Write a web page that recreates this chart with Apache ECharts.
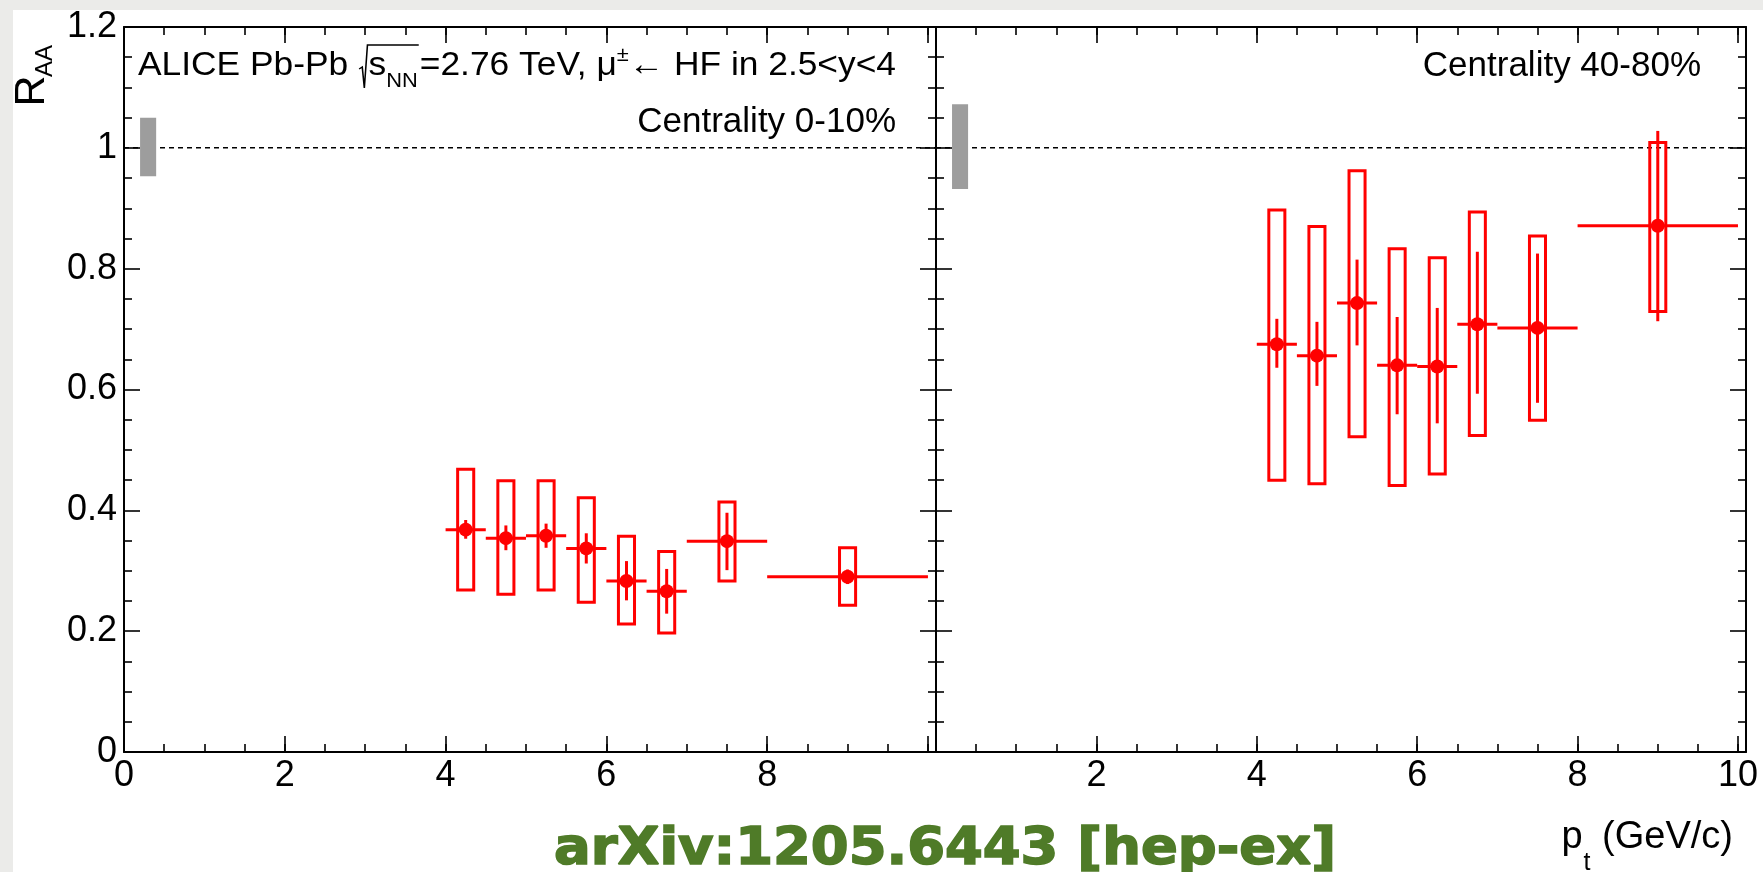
<!DOCTYPE html>
<html><head><meta charset="utf-8">
<script src="https://cdn.jsdelivr.net/npm/echarts@6/dist/echarts.min.js"></script>
<style>
html,body{margin:0;padding:0;background:#ebebe9;}
#wrap{position:relative;width:1763px;height:872px;overflow:hidden;background:#ebebe9;}
#paper{position:absolute;left:13px;top:10px;right:0;bottom:0;background:#fff;}
#chart{position:absolute;left:0;top:0;width:1763px;height:872px;}
</style></head><body>
<div id="wrap"><div id="paper"></div><div id="chart"></div></div>
<script>
// ---------------- data ----------------
const binCenters = [4.25, 4.75, 5.25, 5.75, 6.25, 6.75, 7.5, 9.0];
const binLow     = [4, 4.5, 5, 5.5, 6, 6.5, 7, 8];
const binHigh    = [4.5, 5, 5.5, 6, 6.5, 7, 8, 10];

// Centrality 0-10%
const raaCentral     = [0.368, 0.354, 0.358, 0.337, 0.283, 0.266, 0.349, 0.290];
const statLoCentral  = [0.353, 0.334, 0.338, 0.312, 0.251, 0.229, 0.301, 0.278];
const statHiCentral  = [0.384, 0.375, 0.378, 0.362, 0.316, 0.303, 0.396, 0.302];
const systLoCentral  = [0.268, 0.261, 0.268, 0.248, 0.212, 0.197, 0.283, 0.243];
const systHiCentral  = [0.468, 0.449, 0.449, 0.421, 0.357, 0.332, 0.414, 0.338];

// Centrality 40-80%
const raaPeripheral    = [0.675, 0.656, 0.743, 0.640, 0.638, 0.708, 0.702, 0.871];
const statLoPeripheral = [0.636, 0.606, 0.673, 0.559, 0.544, 0.593, 0.578, 0.713];
const statHiPeripheral = [0.717, 0.712, 0.815, 0.720, 0.735, 0.828, 0.825, 1.028];
const systLoPeripheral = [0.450, 0.444, 0.522, 0.441, 0.460, 0.524, 0.549, 0.729];
const systHiPeripheral = [0.897, 0.870, 0.962, 0.833, 0.818, 0.894, 0.854, 1.009];

// global normalisation uncertainty boxes [x, low, high]
const normUncCentral    = [0.3, 0.953, 1.050];
const normUncPeripheral = [0.3, 0.932, 1.072];

const xTickLabelsCentral    = [0, 2, 4, 6, 8];
const xTickLabelsPeripheral = [2, 4, 6, 8, 10];
const yTickLabels = ['0', '0.2', '0.4', '0.6', '0.8', '1', '1.2'];

// ---------------- styling ----------------
const FONT = 'Liberation Sans';
const RED = '#ff0000';
const BOX_HALF = 0.1;
const ctx = document.createElement('canvas').getContext('2d');
function tw(str, size, weight, family) {
  ctx.font = (weight || 'normal') + ' ' + size + 'px "' + (family || FONT) + '", "DejaVu Sans", sans-serif';
  return ctx.measureText(str).width;
}

const lineBlack = { color: '#000', width: 2 };
const tickBlack = { color: '#000', width: 1.6 };

function xAxes(gi, labels) {
  const base = { gridIndex: gi, type: 'value', min: 0, max: 10.1, splitLine: { show: false } };
  const ax = (pos, interval, len, showLine, showLabel) => Object.assign({}, base, {
    position: pos, interval: interval,
    axisLine: { show: showLine, onZero: false, lineStyle: lineBlack },
    axisTick: { show: true, inside: true, length: len, lineStyle: tickBlack },
    axisLabel: showLabel ? {
      show: true, margin: 6, color: '#000', fontSize: 36, fontFamily: FONT,
      formatter: v => (labels.indexOf(v) >= 0 ? String(v) : '')
    } : { show: false }
  });
  return [
    ax('bottom', 2, 16, true, true),
    ax('bottom', 0.5, 8, false, false),
    ax('top', 2, 16, true, false),
    ax('top', 0.5, 8, false, false)
  ];
}
function yAxes(gi, showLabels) {
  const base = {
    gridIndex: gi, type: 'value', min: 0, max: 1.2, interval: 0.2, splitLine: { show: false },
    axisLine: { show: true, onZero: false, lineStyle: lineBlack },
    axisTick: { show: true, inside: true, length: 16, lineStyle: tickBlack },
    minorTick: { show: true, splitNumber: 4, length: 8, lineStyle: tickBlack }
  };
  return [
    Object.assign({}, base, { position: 'left', axisLabel: showLabels ? {
      show: true, margin: 7, color: '#000', fontSize: 36, fontFamily: FONT,
      formatter: v => yTickLabels[Math.round(v / 0.2)]
    } : { show: false } }),
    Object.assign({}, base, { position: 'right', axisLabel: { show: false } })
  ];
}

function renderGray(params, api) {
  const a = api.coord([api.value(0) - BOX_HALF, api.value(2)]);
  const b = api.coord([api.value(0) + BOX_HALF, api.value(1)]);
  return { type: 'rect', shape: { x: a[0], y: a[1], width: b[0] - a[0], height: b[1] - a[1] },
    style: { fill: '#9d9d9d' } };
}
function renderSyst(params, api) {
  const a = api.coord([api.value(0) - BOX_HALF, api.value(2)]);
  const b = api.coord([api.value(0) + BOX_HALF, api.value(1)]);
  return { type: 'rect', shape: { x: a[0], y: a[1], width: b[0] - a[0], height: b[1] - a[1] },
    style: { fill: 'none', stroke: RED, lineWidth: 3 } };
}
function renderPoint(params, api) {
  const x = api.value(0), y = api.value(1);
  const c = api.coord([x, y]);
  const lo = api.coord([x, api.value(2)]);
  const hi = api.coord([x, api.value(3)]);
  const l = api.coord([api.value(4), y]);
  const r = api.coord([api.value(5), y]);
  return { type: 'group', children: [
    { type: 'line', shape: { x1: c[0], y1: hi[1], x2: c[0], y2: lo[1] }, style: { stroke: RED, lineWidth: 3 } },
    { type: 'line', shape: { x1: l[0], y1: c[1], x2: r[0], y2: c[1] }, style: { stroke: RED, lineWidth: 3 } },
    { type: 'circle', shape: { cx: c[0], cy: c[1], r: 7 }, style: { fill: RED } }
  ] };
}

function panelSeries(xi, yi, raa, sLo, sHi, yLo, yHi, norm) {
  return [
    { type: 'line', xAxisIndex: xi, yAxisIndex: yi, data: [[0, 1], [10.1, 1]], symbol: 'none',
      lineStyle: { color: '#000', width: 1.5, type: [5, 4] }, silent: true, z: 1 },
    { type: 'custom', xAxisIndex: xi, yAxisIndex: yi, data: [norm], renderItem: renderGray, z: 2, silent: true },
    { type: 'custom', xAxisIndex: xi, yAxisIndex: yi,
      data: binCenters.map((x, i) => [x, yLo[i], yHi[i]]), renderItem: renderSyst, z: 3, silent: true },
    { type: 'custom', xAxisIndex: xi, yAxisIndex: yi,
      data: binCenters.map((x, i) => [x, raa[i], sLo[i], sHi[i], binLow[i], binHigh[i]]),
      renderItem: renderPoint, z: 4, silent: true }
  ];
}

// ---------------- annotations ----------------
function txt(text, x, y, size, align, extra) {
  return Object.assign({ type: 'text', x: x, y: y, style: {
    text: text, fontSize: size, fontFamily: FONT, fill: '#000', align: align || 'left', verticalAlign: 'middle'
  } }, extra || {});
}
// header line with sqrt(s_NN)
const H = 34, S = 21, HY = 66;
let hx = 0;
const hParts = [];
function hadd(text, size, dy) { hParts.push(txt(text, hx, HY + dy, size, 'left')); hx += tw(text, size); }
hadd('ALICE Pb-Pb ', H, 0);
const radX = hx; hx += 10;
hadd('s', H, 0);
hadd('NN', S, 15);
const olEnd = hx + 1;
hx += 2;
hadd('=2.76 TeV, \u03bc', H, 0);
hadd('\u00b1', S, -11);
hadd('\u2190 HF in 2.5<y<4', H, 0);
hParts.push({ type: 'polyline', shape: { points: [[radX + 1, HY + 3], [radX + 4, HY + 1], [radX + 6, HY + 22], [radX + 9, HY - 21], [olEnd, HY - 21]] },
  style: { stroke: '#000', lineWidth: 1.5, fill: null } });
const headerTarget = 758;

// x-axis title p_t (GeV/c)
const xtParts = [];
let px = 0;
xtParts.push(txt('p', px, 0, 38, 'left')); px += tw('p', 38);
xtParts.push(txt('t', px + 1, 25, 25, 'left')); px += tw('t', 25) + 2;
xtParts.push(txt(' (GeV/c)', px, 0, 38, 'left')); px += tw(' (GeV/c)', 38);

const arxivText = 'arXiv:1205.6443 [hep-ex]';
const ARX_FAMILY = 'DejaVu Sans Condensed';
const arxivW = tw(arxivText, 52, 'bold', ARX_FAMILY);

const graphics = [
  { type: 'group', x: 138, y: 0, scaleX: headerTarget / hx, children: hParts, z: 10 },
  txt('Centrality 0-10%', 896, 122, 35, 'right', { z: 10 }),
  txt('Centrality 40-80%', 1701, 66, 35, 'right', { z: 10 }),
  txt('R', 32, 91, 43, 'center', { rotation: Math.PI / 2, z: 10 }),
  txt('AA', 45, 61, 24, 'center', { rotation: Math.PI / 2, z: 10 }),
  { type: 'group', x: 1733 - px, y: 838, children: xtParts, z: 10 },
  { type: 'text', x: 945, y: 850, scaleX: 782 / arxivW, z: 10, style: {
      text: arxivText, fontSize: 52, fontWeight: 'bold', fontFamily: ARX_FAMILY + ', DejaVu Sans',
      fill: '#4f7b28', stroke: '#4f7b28', lineWidth: 1.5, align: 'center', verticalAlign: 'middle' } }
];

// ---------------- chart ----------------
const chart = echarts.init(document.getElementById('chart'), null, { renderer: 'canvas' });
chart.setOption({
  animation: false,
  backgroundColor: 'transparent',
  grid: [
    { left: 124, top: 27, width: 812, height: 725 },
    { left: 936, top: 27, width: 810, height: 725 }
  ],
  xAxis: [].concat(xAxes(0, xTickLabelsCentral), xAxes(1, xTickLabelsPeripheral)),
  yAxis: [].concat(yAxes(0, true), yAxes(1, false)),
  series: [].concat(
    panelSeries(0, 0, raaCentral, statLoCentral, statHiCentral, systLoCentral, systHiCentral, normUncCentral),
    panelSeries(4, 2, raaPeripheral, statLoPeripheral, statHiPeripheral, systLoPeripheral, systHiPeripheral, normUncPeripheral)
  ),
  graphic: graphics
});
</script>
</body></html>
